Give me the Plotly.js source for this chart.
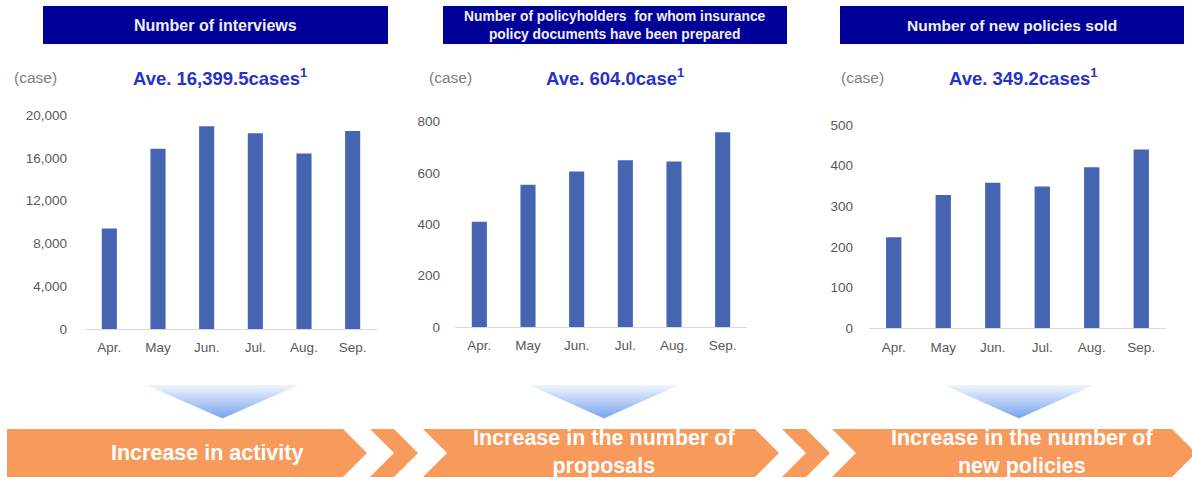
<!DOCTYPE html>
<html>
<head>
<meta charset="utf-8">
<script src="https://cdn.plot.ly/plotly-3.0.1.min.js"></script>
<style>html,body{margin:0;padding:0;background:#fff;}#chart{width:1192px;height:480px;}</style>
</head>
<body>
<div id="chart"></div>
<script>
// ---- data ----
const months = ['Apr.', 'May', 'Jun.', 'Jul.', 'Aug.', 'Sep.'];
const interviews = [9400, 16850, 18950, 18300, 16400, 18500];
const documentsPrepared = [410, 554, 606, 650, 645, 759];
const newPoliciesSold = [224, 328, 358, 349, 396, 440];
const panelTitles = ['Number of interviews', 'Number of policyholders  for whom insurance<br>policy documents have been prepared', 'Number of new policies sold'];
const averageTexts = ['Ave. 16,399.5cases<sup>1</sup>', 'Ave. 604.0case<sup>1</sup>', 'Ave. 349.2cases<sup>1</sup>'];
const unitLabel = '(case)';
const flowTexts = ['Increase in activity', 'Increase in the number of<br>proposals', 'Increase in the number of<br>new policies'];
const yTicks1 = [0, 4000, 8000, 12000, 16000, 20000];
const yTicks2 = [0, 200, 400, 600, 800];
const yTicks3 = [0, 100, 200, 300, 400, 500];

// ---- helpers (pixel -> paper) ----
const W = 1192, H = 480;
const px = x => x / W;
const py = y => 1 - y / H;
const FONT = 'Liberation Sans, Arial, sans-serif';
const BAR = '#4565B3';
const GRAY = '#595959';

function bar(y, xa, ya) {
  return {type: 'bar', x: months, y: y, xaxis: xa, yaxis: ya,
    marker: {color: BAR}, hoverinfo: 'x+y', showlegend: false};
}
const data = [
  bar(interviews, 'x', 'y'),
  bar(documentsPrepared, 'x2', 'y2'),
  bar(newPoliciesSold, 'x3', 'y3')
];

function xax(x0, x1, anchor) {
  return {domain: [px(x0), px(x1)], type: 'category', showgrid: false, zeroline: false,
    showline: true, linecolor: '#d9d9d9', linewidth: 1, ticks: '', anchor: anchor,
    tickfont: {family: FONT, size: 13.5, color: GRAY}, ticklabelstandoff: 6, fixedrange: true};
}
function yax(ytop, ybot, max, vals, anchor, standoff) {
  return {domain: [py(ybot), py(ytop)], range: [0, max], showgrid: false, zeroline: false,
    showline: false, ticks: '', tickvals: vals, tickformat: ',d', anchor: anchor,
    tickfont: {family: FONT, size: 13.5, color: GRAY}, ticklabelstandoff: standoff, fixedrange: true};
}

const shapes = [];
const annotations = [];

// header boxes
const headers = [[43, 388], [443, 787], [840, 1184]];
const headerSizes = [16, 13.8, 15.5];
headers.forEach((h, i) => {
  shapes.push({type: 'rect', xref: 'paper', yref: 'paper', x0: px(h[0]), x1: px(h[1]),
    y0: py(44), y1: py(6), fillcolor: '#000099', line: {width: 0}, layer: 'below'});
  annotations.push({xref: 'paper', yref: 'paper', x: px((h[0] + h[1]) / 2), y: py(25),
    xanchor: 'center', yanchor: 'middle', showarrow: false, align: 'center',
    text: '<b>' + panelTitles[i] + '</b>',
    font: {family: FONT, size: headerSizes[i], color: '#f0f0f0'}});
});

// unit labels and averages
const unitX = [35, 450, 862];
const aveX = [220, 615, 1023];
for (let i = 0; i < 3; i++) {
  annotations.push({xref: 'paper', yref: 'paper', x: px(unitX[i]), y: py(77), xanchor: 'center',
    yanchor: 'middle', showarrow: false, text: unitLabel, font: {family: FONT, size: 15.5, color: '#808080'}});
  annotations.push({xref: 'paper', yref: 'paper', x: px(aveX[i]), y: py(77), xanchor: 'center',
    yanchor: 'middle', showarrow: false, text: '<b>' + averageTexts[i] + '</b>',
    font: {family: FONT, size: 18.5, color: '#2832C8'}});
}

// gradient down-triangles
const tris = [[147, 298], [530, 678], [945, 1093]];
const tTop = 385, tBot = 418, nb = 33;
tris.forEach(t => {
  const cx = (t[0] + t[1]) / 2, hw = (t[1] - t[0]) / 2;
  for (let k = 0; k < nb; k++) {
    const ya = tTop + (tBot - tTop) * k / nb, yb = tTop + (tBot - tTop) * (k + 1) / nb;
    const wa = hw * (1 - k / nb), wb = hw * (1 - (k + 1) / nb);
    const f = (k + 0.5) / nb;
    const r = Math.round(240 - (240 - 122) * f), g = Math.round(245 - (245 - 164) * f), b = Math.round(253 - (253 - 238) * f);
    shapes.push({type: 'path', xref: 'paper', yref: 'paper', fillcolor: `rgb(${r},${g},${b})`, line: {width: 0},
      path: `M${px(cx - wa)},${py(ya)} L${px(cx + wa)},${py(ya)} L${px(cx + wb)},${py(yb + 0.5)} L${px(cx - wb)},${py(yb + 0.5)} Z`});
  }
});

// orange flow chevrons
const ORANGE = '#F79A5C';
const yT = 429, yB = 477, yM = 453, d = 24;
function chevron(x0, x1, notch) {
  const pts = [[x0, yT], [x1, yT], [x1 + d, yM], [x1, yB], [x0, yB]];
  if (notch) pts.push([x0 + d, yM]);
  return 'M' + pts.map(p => px(p[0]) + ',' + py(p[1])).join(' L') + ' Z';
}
[[7, 343, false], [370, 394, true], [423, 755, true], [782, 806, true], [832, 1172, true]].forEach(c => {
  shapes.push({type: 'path', xref: 'paper', yref: 'paper', fillcolor: ORANGE, line: {width: 0}, path: chevron(c[0], c[1], c[2])});
});
const flowX = [207, 604, 1022];
const flowY = [453, 452, 452];
flowTexts.forEach((t, i) => {
  annotations.push({xref: 'paper', yref: 'paper', x: px(flowX[i]), y: py(flowY[i]), xanchor: 'center',
    yanchor: 'middle', showarrow: false, align: 'center', text: '<b>' + t + '</b>',
    font: {family: FONT, size: 21.5, color: '#ffffff'}});
});

const layout = {
  width: W, height: H, margin: {l: 0, r: 0, t: 0, b: 0},
  paper_bgcolor: '#ffffff', plot_bgcolor: 'rgba(0,0,0,0)',
  bargap: 0.69, showlegend: false,
  xaxis: xax(85, 377, 'y'), yaxis: yax(115, 329, 20000, yTicks1, 'x', 17),
  xaxis2: xax(455, 747, 'y2'), yaxis2: yax(121.7, 327, 800, yTicks2, 'x2', 14),
  xaxis3: xax(869, 1166, 'y3'), yaxis3: yax(125, 328.3, 500, yTicks3, 'x3', 15),
  shapes: shapes, annotations: annotations
};

Plotly.newPlot('chart', data, layout, {displayModeBar: false, staticPlot: true});
</script>
</body>
</html>
